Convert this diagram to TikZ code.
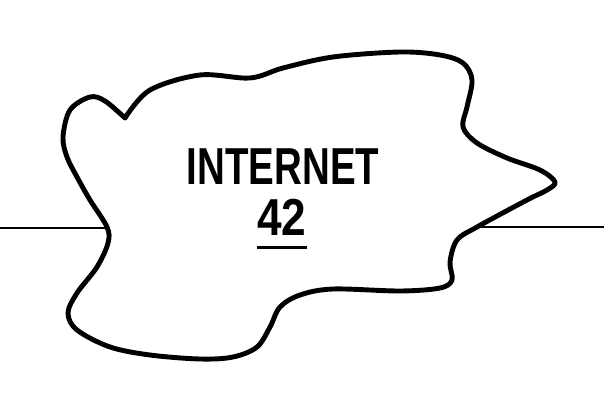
\documentclass[tikz,border=0pt]{standalone}
\usepackage{fontspec}
\usepackage{graphicx}
\newfontfamily\labelfont{Liberation Sans}
\begin{document}
\begin{tikzpicture}[x=1pt, y=-1pt, font=\labelfont\bfseries\fontsize{52}{60}\selectfont,
    cloud/.style={line width=4.9pt, line join=round, line cap=round},
    wire/.style={line width=2.8pt},
    label/.style={inner sep=0pt, anchor=base}]
  \useasboundingbox (0,0) rectangle (604,403);

  % Cloud outline (starts and ends at the notch of the left lobe)
  \draw[cloud] plot[smooth, tension=0.55] coordinates {
      (125,118) (150,90) (200,75) (250,78) (283,68) (333,57) (400,52)
      (440,55) (463,63) (472,80) (467,107) (463,127) (477,143) (507,158)
      (540,170) (555,182) (547,190) (527,200) (477,227) (457,240)
      (450,262) (452,280) (440,288) (400,291) (333,289) (300,295)
      (280,307) (270,327) (257,347) (233,357) (200,359) (150,355)
      (110,347) (77,330) (68,313) (77,293) (97,267) (108,243) (107,227)
      (90,200) (77,177) (67,157) (63,137) (70,110) (90,97) (105,101)
      (125,118)};

  % Lines to the cloud
  \coordinate (lanW) at (0,228);
  \coordinate (cloudW) at (107,228);
  \coordinate (cloudE) at (477,227);
  \coordinate (lanE) at (604,227);
  \draw[wire] (lanW) -- (cloudW);
  \draw[wire] (cloudE) -- (lanE);

  % Labels
  \node[label] (name) at (283,185) {\scalebox{0.74}[1]{INTERNET}};
  \node[label] (num) at (282,235) {\scalebox{0.85}[1]{42}};
  \draw[wire] ([yshift=-12pt]num.south west) -- ([yshift=-12pt]num.south east);

\end{tikzpicture}
\end{document}
